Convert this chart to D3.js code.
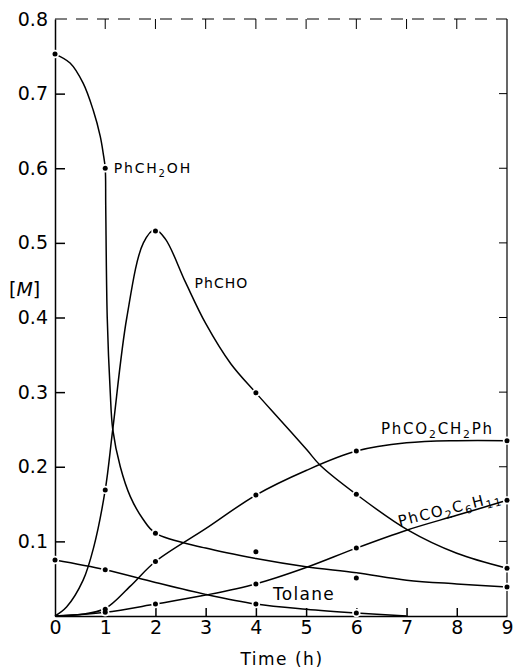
<!DOCTYPE html>
<html><head><meta charset="utf-8">
<script src="https://cdn.jsdelivr.net/npm/d3@7/dist/d3.min.js"></script>
<style>
body{margin:0;background:#fff;}
svg{display:block;font-family:"DejaVu Sans",sans-serif;}
</style></head>
<body><svg id="c" width="514" height="670"></svg>
<script>
// ---- data ----
const hours = [0,1,2,3,4,5,6,7,8,9];
const hourLabels = ["0","1","2","3","4","5","6","7","8","9"];
const yTicks = [0.1,0.2,0.3,0.4,0.5,0.6,0.7,0.8];
const yTickLabels = ["0.1","0.2","0.3","0.4","0.5","0.6","0.7","0.8"];

// measured points (dots)
const alcT = [0,1,2,4,6,9];
const alcV = [0.753,0.600,0.111,0.086,0.051,0.039];
const aldT = [1,2,4,6,9];
const aldV = [0.169,0.516,0.299,0.163,0.064];
const bzT = [1,2,4,6,9];
const bzV = [0.009,0.073,0.162,0.221,0.235];
const cyT = [1,2,4,6,9];
const cyV = [0.005,0.016,0.043,0.091,0.155];
const tolT = [0,1,4,6];
const tolV = [0.075,0.062,0.016,0.004];

// drawn curves
const alcCurveT = [0,0.3,0.56,0.76,0.9,0.96,1.0,1.01,1.04,1.1,1.15,1.3,1.5,1.75,2,3,4,5,6,7,8,9];
const alcCurveV = [0.753,0.741,0.714,0.678,0.643,0.62,0.600,0.55,0.40,0.30,0.25,0.20,0.16,0.13,0.111,0.091,0.077,0.066,0.058,0.048,0.043,0.039];
const aldCurveT = [0,0.23,0.56,0.77,1,1.15,1.43,1.76,1.99,2.2,2.6,3.0,3.5,4,4.48,5.01,5.28,6,7.03,8,9];
const aldCurveV = [0,0.012,0.048,0.092,0.169,0.25,0.40,0.50,0.518,0.505,0.447,0.392,0.338,0.299,0.263,0.223,0.202,0.163,0.115,0.084,0.064];
const bzCurveT = [0,0.5,1,1.5,2,3,4,5,6,7,8,9];
const bzCurveV = [0,0.002,0.010,0.040,0.073,0.117,0.162,0.195,0.221,0.232,0.235,0.235];
const cyCurveT = [0,1,2,3,4,5,6,7,8,9];
const cyCurveV = [0,0.005,0.016,0.028,0.043,0.065,0.091,0.115,0.135,0.155];
const tolCurveT = [0,1,2,3,4,5,6,7];
const tolCurveV = [0.075,0.062,0.045,0.029,0.016,0.009,0.004,0.0];

// ---- chart ----
const W = 514, H = 670;
const m = {left:55, right:7, top:19, bottom:54};
const svg = d3.select("#c");
const x = d3.scaleLinear().domain([0,9]).range([m.left, W-m.right]);
const y = d3.scaleLinear().domain([0,0.8]).range([H-m.bottom, m.top]);

const zip = (a,b)=>a.map((t,i)=>[t,b[i]]);
const line = d3.line().x(d=>x(d[0])).y(d=>y(d[1])).curve(d3.curveCatmullRom.alpha(0.5));

// frame: top dashed, right solid
svg.append("line").attr("x1",x(0)).attr("x2",x(9)).attr("y1",y(0.8)).attr("y2",y(0.8))
  .attr("stroke","#000").attr("stroke-width",1).attr("stroke-dasharray","12,9");
svg.append("line").attr("x1",x(9)).attr("x2",x(9)).attr("y1",y(0.8)).attr("y2",y(0))
  .attr("stroke","#000").attr("stroke-width",1.2);
// top ticks
svg.append("g").selectAll("line").data(hours.slice(1,9)).join("line")
  .attr("x1",d=>x(d)).attr("x2",d=>x(d)).attr("y1",y(0.8)).attr("y2",y(0.8)+10)
  .attr("stroke","#000").attr("stroke-width",1);
// right ticks
svg.append("g").selectAll("line").data(yTicks.slice(0,7)).join("line")
  .attr("x1",x(9)).attr("x2",x(9)-8).attr("y1",d=>y(d)).attr("y2",d=>y(d))
  .attr("stroke","#000").attr("stroke-width",1);

// left axis
const gy = svg.append("g").attr("transform",`translate(${x(0)},0)`)
  .call(d3.axisLeft(y).tickValues(yTicks).tickSizeInner(-10).tickSizeOuter(0).tickPadding(7)
    .tickFormat((d,i)=>yTickLabels[i]));
gy.selectAll("text").attr("font-size",19).attr("font-family","DejaVu Sans").attr("fill","#000");
gy.selectAll("line,path").attr("stroke","#000").attr("stroke-width",1.5);
gy.selectAll(".tick").filter(d=>d===0.8).select("line").remove();

// bottom axis
const gx = svg.append("g").attr("transform",`translate(0,${y(0)})`)
  .call(d3.axisBottom(x).tickValues(hours).tickSizeInner(-8).tickSizeOuter(0).tickPadding(5)
    .tickFormat((d,i)=>hourLabels[i]));
gx.selectAll("text").attr("font-size",19).attr("font-family","DejaVu Sans").attr("fill","#000");
gx.selectAll("line,path").attr("stroke","#000").attr("stroke-width",1.5);
gx.selectAll(".tick").filter(d=>d===0||d===9).select("line").remove();

// axis titles
svg.append("text").attr("x",(x(0)+x(9))/2+1).attr("y",665).attr("text-anchor","middle")
  .attr("font-size",17).attr("letter-spacing",1.5).text("Time (h)");
const mt = svg.append("text").attr("x",9).attr("y",296).attr("font-size",19);
mt.append("tspan").text("[");
mt.append("tspan").attr("font-style","italic").text("M");
mt.append("tspan").text("]");

// curves
const curves = [
  zip(alcCurveT,alcCurveV), zip(aldCurveT,aldCurveV), zip(bzCurveT,bzCurveV),
  zip(cyCurveT,cyCurveV), zip(tolCurveT,tolCurveV)
];
svg.append("g").selectAll("path").data(curves).join("path")
  .attr("d",line).attr("fill","none").attr("stroke","#000").attr("stroke-width",1.5);

// dots with small white gaps
const dots = [].concat(zip(alcT,alcV), zip(aldT,aldV), zip(bzT,bzV), zip(cyT,cyV), zip(tolT,tolV));
const dg = svg.append("g");
dg.selectAll("circle.h").data(dots).join("circle").attr("class","h")
  .attr("cx",d=>x(d[0])).attr("cy",d=>y(d[1])).attr("r",4.2).attr("fill","#fff");
dg.selectAll("circle.d").data(dots).join("circle").attr("class","d")
  .attr("cx",d=>x(d[0])).attr("cy",d=>y(d[1])).attr("r",2.5).attr("fill","#000");

// series labels
function label(t,v,parts,size,ls,rot){
  const tx = svg.append("text").attr("font-size",size).attr("letter-spacing",ls)
    .attr("transform",`translate(${x(t)},${y(v)}) rotate(${rot||0})`);
  parts.forEach(p=>{
    if(p.sub){ tx.append("tspan").attr("font-size",size*0.72).attr("dy",4).text(p.s); }
    else { tx.append("tspan").attr("dy",p.back?-4:0).text(p.s); }
  });
}
label(1.17,0.593,[{s:"PhCH"},{s:"2",sub:true},{s:"OH",back:true}],14,1.8);
label(2.78,0.44,[{s:"PhCHO"}],14,1);
label(6.49,0.244,[{s:"PhCO"},{s:"2",sub:true},{s:"CH",back:true},{s:"2",sub:true},{s:"Ph",back:true}],15,1.8);
label(6.86,0.12,[{s:"PhCO"},{s:"2",sub:true},{s:"C",back:true},{s:"6",sub:true},{s:"H",back:true},{s:"11",sub:true}],15,1.6,-14);
label(4.34,0.021,[{s:"Tolane"}],17,1.3);
</script></body></html>
